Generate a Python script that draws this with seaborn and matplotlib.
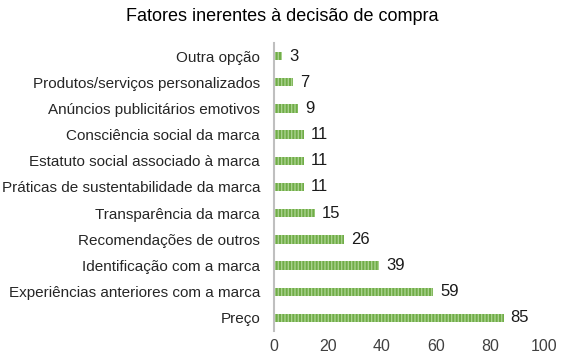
import matplotlib
matplotlib.use("Agg")
import matplotlib.pyplot as plt
import seaborn as sns
import pandas as pd

categories = [
    "Outra opção",
    "Produtos/serviços personalizados",
    "Anúncios publicitários emotivos",
    "Consciência social da marca",
    "Estatuto social associado à marca",
    "Práticas de sustentabilidade da marca",
    "Transparência da marca",
    "Recomendações de outros",
    "Identificação com a marca",
    "Experiências anteriores com a marca",
    "Preço",
]
values = [3, 7, 9, 11, 11, 11, 15, 26, 39, 59, 85]
xticks = [0, 20, 40, 60, 80, 100]
title = "Fatores inerentes à decisão de compra"

sns.set_style("white")
plt.rcParams["font.family"] = ["Liberation Sans", "DejaVu Sans"]
plt.rcParams["hatch.linewidth"] = 1.0

df = pd.DataFrame({"cat": categories, "val": values})

fig = plt.figure(figsize=(5.65, 3.61), dpi=100)
ax = fig.add_axes([0.485, 0.083, 0.478, 0.798])
sns.barplot(data=df, y="cat", x="val", orient="h", color="#70AD47",
            width=0.32, ax=ax, saturation=1)
for p in ax.patches:
    p.set_hatch("|||||")
    p.set_edgecolor("#A9D18E")
    p.set_linewidth(0)

for i, v in enumerate(values):
    ax.text(v + 2.6, i, str(v), va="center", ha="left", fontsize=12, color="#1a1a1a")

ax.set_xlim(0, 100)
ax.set_xticks(xticks)
ax.set_xticklabels([str(t) for t in xticks], fontsize=11.5, color="#404040")
ax.set_yticks(range(len(categories)))
ax.set_yticklabels(categories, fontsize=11, color="#262626")
ax.set_xlabel("")
ax.set_ylabel("")
ax.tick_params(axis="both", length=0, pad=6)
ax.tick_params(axis="y", pad=10)
for s in ["top", "right", "bottom"]:
    ax.spines[s].set_visible(False)
ax.spines["left"].set_color("#BFBFBF")
ax.spines["left"].set_linewidth(1.5)

fig.text(0.5, 0.955, title, ha="center", va="center", fontsize=13, color="#000000")

fig.savefig("out.png", dpi=100)
